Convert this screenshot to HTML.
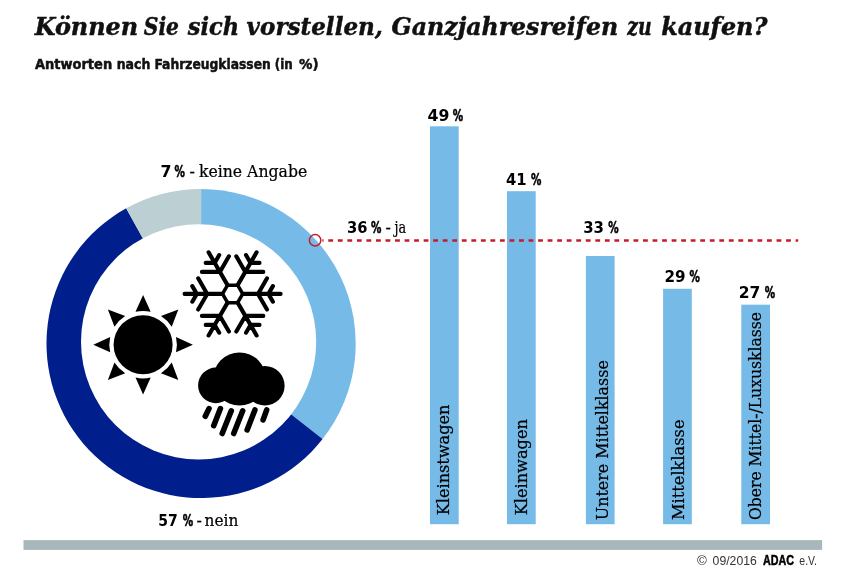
<!DOCTYPE html>
<html lang="de"><head><meta charset="utf-8"><title>Ganzjahresreifen</title>
<style>
html,body{margin:0;padding:0;background:#fff}
svg{display:block;will-change:transform}
</style></head><body>
<svg width="858" height="578" viewBox="0 0 858 578">
<rect width="858" height="578" fill="#fff"/>
<g font-family="DejaVu Serif, Liberation Serif, serif" font-weight="bold" font-style="italic" font-size="23.6" fill="#111" stroke="#111" stroke-width="0.45"><text x="34.7" y="35" textLength="103.5" lengthAdjust="spacingAndGlyphs">Können</text><text x="143.8" y="35" textLength="35.2" lengthAdjust="spacingAndGlyphs">Sie</text><text x="187.8" y="35" textLength="51.3" lengthAdjust="spacingAndGlyphs">sich</text><text x="246.6" y="35" textLength="136.3" lengthAdjust="spacingAndGlyphs">vorstellen,</text><text x="391.6" y="35" textLength="226.6" lengthAdjust="spacingAndGlyphs">Ganzjahresreifen</text><text x="627.3" y="35" textLength="24.4" lengthAdjust="spacingAndGlyphs">zu</text><text x="661.2" y="35" textLength="106.3" lengthAdjust="spacingAndGlyphs">kaufen?</text></g>
<g font-family="DejaVu Sans, Liberation Sans, sans-serif" font-weight="bold" font-size="13.6" fill="#111" stroke="#111" stroke-width="0.5"><text x="34.9" y="69.2" textLength="77.3" lengthAdjust="spacingAndGlyphs">Antworten</text><text x="116.7" y="69.2" textLength="33.7" lengthAdjust="spacingAndGlyphs">nach</text><text x="154.4" y="69.2" textLength="116.4" lengthAdjust="spacingAndGlyphs">Fahrzeugklassen</text><text x="274.8" y="69.2" textLength="18" lengthAdjust="spacingAndGlyphs">(in</text><text x="299" y="69.2" textLength="19.6" lengthAdjust="spacingAndGlyphs">%)</text></g>
<path d="M201.1 343.5L201.1 188.9A154.6 154.6 0 0 1 322.59 439.11Z" fill="#76bae8"/>
<path d="M201.1 343.5L322.59 439.11A154.6 154.6 0 1 1 126.15 208.28Z" fill="#001f8c"/>
<path d="M201.1 343.5L126.15 208.28A154.6 154.6 0 0 1 201.1 188.9Z" fill="#bccfd3"/>
<circle cx="198.6" cy="341.8" r="117.6" fill="#fff"/>
<path d="M242.7 293.9L280.6 293.9M258 293.9L267 278.31M268.4 293.9L272.9 286.11M258 293.9L267 309.49M268.4 293.9L272.9 301.69M237.65 302.65L256.6 335.47M245.3 315.9L263.3 315.9M250.5 324.9L259.5 324.9M245.3 315.9L236.3 331.49M250.5 324.9L246 332.7M227.55 302.65L208.6 335.47M219.9 315.9L228.9 331.49M214.7 324.9L219.2 332.7M219.9 315.9L201.9 315.9M214.7 324.9L205.7 324.9M222.5 293.9L184.6 293.9M207.2 293.9L198.2 309.49M196.8 293.9L192.3 301.69M207.2 293.9L198.2 278.31M196.8 293.9L192.3 286.11M227.55 285.15L208.6 252.33M219.9 271.9L201.9 271.9M214.7 262.9L205.7 262.9M219.9 271.9L228.9 256.31M214.7 262.9L219.2 255.1M237.65 285.15L256.6 252.33M245.3 271.9L236.3 256.31M250.5 262.9L246 255.1M245.3 271.9L263.3 271.9M250.5 262.9L259.5 262.9" stroke="#000" stroke-width="4.1" stroke-linecap="round" fill="none"/><polygon points="242.7,293.9 237.65,302.65 227.55,302.65 222.5,293.9 227.55,285.15 237.65,285.15" stroke="#000" stroke-width="3.5" stroke-linejoin="round" fill="none"/>
<circle cx="143.1" cy="344.7" r="29.5" fill="#000"/><path d="M-7.6 -32.9A33.8 33.8 0 0 1 7.6 -32.9L0 -49.8Z" transform="translate(143.1 344.7) rotate(0)" fill="#000"/><path d="M-7.6 -32.9A33.8 33.8 0 0 1 7.6 -32.9L0 -49.8Z" transform="translate(143.1 344.7) rotate(45)" fill="#000"/><path d="M-7.6 -32.9A33.8 33.8 0 0 1 7.6 -32.9L0 -49.8Z" transform="translate(143.1 344.7) rotate(90)" fill="#000"/><path d="M-7.6 -32.9A33.8 33.8 0 0 1 7.6 -32.9L0 -49.8Z" transform="translate(143.1 344.7) rotate(135)" fill="#000"/><path d="M-7.6 -32.9A33.8 33.8 0 0 1 7.6 -32.9L0 -49.8Z" transform="translate(143.1 344.7) rotate(180)" fill="#000"/><path d="M-7.6 -32.9A33.8 33.8 0 0 1 7.6 -32.9L0 -49.8Z" transform="translate(143.1 344.7) rotate(225)" fill="#000"/><path d="M-7.6 -32.9A33.8 33.8 0 0 1 7.6 -32.9L0 -49.8Z" transform="translate(143.1 344.7) rotate(270)" fill="#000"/><path d="M-7.6 -32.9A33.8 33.8 0 0 1 7.6 -32.9L0 -49.8Z" transform="translate(143.1 344.7) rotate(315)" fill="#000"/>
<circle cx="215.9" cy="385.4" r="17.8"/><circle cx="239.5" cy="378.9" r="26.5"/><circle cx="264.9" cy="385.8" r="19.7"/>
<path d="M209 408.6L205.3 416.3M220.4 408.6L213.7 425.7M231.3 410.8L222.2 433.5M242.7 410.8L233.7 433.5M254.9 409.9L247.1 429.9M266.7 409.9L263.1 419.9" stroke="#000" stroke-width="5.6" stroke-linecap="round" fill="none"/>
<rect x="430" y="126.3" width="28.7" height="397.9" fill="#76bae8"/>
<rect x="507" y="191.2" width="28.7" height="333" fill="#76bae8"/>
<rect x="585.9" y="256" width="28.7" height="268.2" fill="#76bae8"/>
<rect x="663.1" y="288.8" width="28.7" height="235.4" fill="#76bae8"/>
<rect x="741.3" y="304.7" width="28.7" height="219.5" fill="#76bae8"/>
<line x1="322.4" y1="240.5" x2="798.2" y2="240.5" stroke="#c41c28" stroke-width="2.7" stroke-dasharray="4.8 4.737" stroke-dashoffset="3.64"/>
<circle cx="315.1" cy="240.2" r="5.7" fill="none" stroke="#c0202a" stroke-width="1.5"/>
<text x="427.5" y="121.2" font-family="DejaVu Sans, Liberation Sans, sans-serif" font-weight="bold" font-size="15.0" textLength="21.9" lengthAdjust="spacingAndGlyphs">49</text><text x="452.7" y="121.2" font-family="DejaVu Sans, Liberation Sans, sans-serif" font-weight="bold" font-size="15.0" stroke="#000" stroke-width="0.55" textLength="10.4" lengthAdjust="spacingAndGlyphs">%</text>
<text transform="translate(449.3 515.3) rotate(-90)" font-family="DejaVu Serif, Liberation Serif, serif" stroke="#000" stroke-width="0.22" font-size="16" textLength="110.8" lengthAdjust="spacingAndGlyphs">Kleinstwagen</text>
<text x="506" y="185.3" font-family="DejaVu Sans, Liberation Sans, sans-serif" font-weight="bold" font-size="15.0" textLength="20.6" lengthAdjust="spacingAndGlyphs">41</text><text x="531.1" y="185.3" font-family="DejaVu Sans, Liberation Sans, sans-serif" font-weight="bold" font-size="15.0" stroke="#000" stroke-width="0.55" textLength="10.4" lengthAdjust="spacingAndGlyphs">%</text>
<text transform="translate(526.8 515.3) rotate(-90)" font-family="DejaVu Serif, Liberation Serif, serif" stroke="#000" stroke-width="0.22" font-size="16" textLength="96.2" lengthAdjust="spacingAndGlyphs">Kleinwagen</text>
<text x="583.2" y="232.9" font-family="DejaVu Sans, Liberation Sans, sans-serif" font-weight="bold" font-size="15.0" textLength="20.8" lengthAdjust="spacingAndGlyphs">33</text><text x="608.3" y="232.9" font-family="DejaVu Sans, Liberation Sans, sans-serif" font-weight="bold" font-size="15.0" stroke="#000" stroke-width="0.55" textLength="10.4" lengthAdjust="spacingAndGlyphs">%</text>
<text transform="translate(607.8 520.2) rotate(-90)" font-family="DejaVu Serif, Liberation Serif, serif" stroke="#000" stroke-width="0.22" font-size="16" textLength="160" lengthAdjust="spacingAndGlyphs">Untere Mittelklasse</text>
<text x="664.5" y="282.2" font-family="DejaVu Sans, Liberation Sans, sans-serif" font-weight="bold" font-size="15.0" textLength="21.1" lengthAdjust="spacingAndGlyphs">29</text><text x="689.5" y="282.2" font-family="DejaVu Sans, Liberation Sans, sans-serif" font-weight="bold" font-size="15.0" stroke="#000" stroke-width="0.55" textLength="10.4" lengthAdjust="spacingAndGlyphs">%</text>
<text transform="translate(684.2 520) rotate(-90)" font-family="DejaVu Serif, Liberation Serif, serif" stroke="#000" stroke-width="0.22" font-size="16" textLength="100.5" lengthAdjust="spacingAndGlyphs">Mittelklasse</text>
<text x="738.8" y="297.8" font-family="DejaVu Sans, Liberation Sans, sans-serif" font-weight="bold" font-size="15.0" textLength="21.6" lengthAdjust="spacingAndGlyphs">27</text><text x="764.7" y="297.8" font-family="DejaVu Sans, Liberation Sans, sans-serif" font-weight="bold" font-size="15.0" stroke="#000" stroke-width="0.55" textLength="10.4" lengthAdjust="spacingAndGlyphs">%</text>
<text transform="translate(760.9 520) rotate(-90)" font-family="DejaVu Serif, Liberation Serif, serif" stroke="#000" stroke-width="0.22" font-size="16" textLength="207.9" lengthAdjust="spacingAndGlyphs">Obere Mittel-/Luxusklasse</text>
<text x="160.6" y="176.9" font-family="DejaVu Sans, Liberation Sans, sans-serif" font-weight="bold" font-size="15.2" textLength="11" lengthAdjust="spacingAndGlyphs">7</text><text x="174.6" y="176.9" font-family="DejaVu Sans, Liberation Sans, sans-serif" font-weight="bold" font-size="15.2" stroke="#000" stroke-width="0.55" textLength="10.4" lengthAdjust="spacingAndGlyphs">%</text><text x="189.4" y="176.9" font-family="DejaVu Serif, Liberation Serif, serif" stroke="#000" stroke-width="0.22" font-size="16">-</text><text x="199" y="176.9" font-family="DejaVu Serif, Liberation Serif, serif" stroke="#000" stroke-width="0.22" font-size="16" textLength="108.2" lengthAdjust="spacingAndGlyphs">keine Angabe</text>
<text x="346.9" y="233.3" font-family="DejaVu Sans, Liberation Sans, sans-serif" font-weight="bold" font-size="15.2" textLength="20.5" lengthAdjust="spacingAndGlyphs">36</text><text x="371.1" y="233.3" font-family="DejaVu Sans, Liberation Sans, sans-serif" font-weight="bold" font-size="15.2" stroke="#000" stroke-width="0.55" textLength="10.4" lengthAdjust="spacingAndGlyphs">%</text><text x="385.4" y="233.3" font-family="DejaVu Serif, Liberation Serif, serif" stroke="#000" stroke-width="0.22" font-size="16">-</text><text x="394.6" y="233.3" font-family="DejaVu Serif, Liberation Serif, serif" stroke="#000" stroke-width="0.22" font-size="16" textLength="11.6" lengthAdjust="spacingAndGlyphs">ja</text>
<text x="158.2" y="526" font-family="DejaVu Sans, Liberation Sans, sans-serif" font-weight="bold" font-size="15.2" textLength="19.5" lengthAdjust="spacingAndGlyphs">57</text><text x="182.7" y="526" font-family="DejaVu Sans, Liberation Sans, sans-serif" font-weight="bold" font-size="15.2" stroke="#000" stroke-width="0.55" textLength="10.4" lengthAdjust="spacingAndGlyphs">%</text><text x="196.4" y="526" font-family="DejaVu Serif, Liberation Serif, serif" stroke="#000" stroke-width="0.22" font-size="16">-</text><text x="204.6" y="526" font-family="DejaVu Serif, Liberation Serif, serif" stroke="#000" stroke-width="0.22" font-size="16" textLength="33.8" lengthAdjust="spacingAndGlyphs">nein</text>
<rect x="23.5" y="540.1" width="798.6" height="9.8" fill="#a7b8ba"/>
<text x="697" y="564.9" font-family="Liberation Sans, sans-serif" font-size="13.3" fill="#333">©</text>
<text x="712.6" y="564.9" font-family="Liberation Sans, sans-serif" font-size="13.3" fill="#333" textLength="44.2" lengthAdjust="spacingAndGlyphs">09/2016</text>
<text x="763" y="565.2" font-family="Liberation Sans, sans-serif" font-weight="bold" font-size="14.6" fill="#000" stroke="#000" stroke-width="0.5" textLength="31" lengthAdjust="spacingAndGlyphs">ADAC</text>
<text x="799.3" y="564.9" font-family="Liberation Sans, sans-serif" font-size="13.3" fill="#333" textLength="17.7" lengthAdjust="spacingAndGlyphs">e.V.</text>
</svg>
</body></html>
